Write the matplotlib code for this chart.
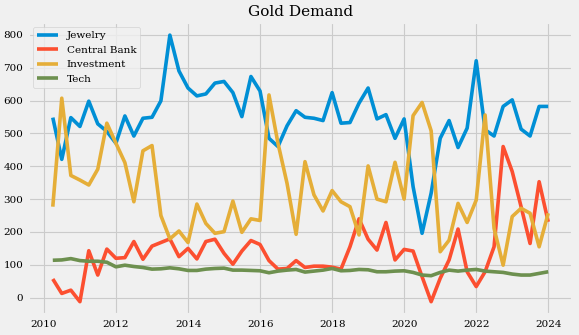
import pandas as pd
import matplotlib
matplotlib.use("Agg")
import matplotlib.pyplot as plt
import matplotlib.dates as mdates

# quarterly gold demand (tonnes), 2010 Q1 - 2023 Q4
quarters = pd.date_range("2010-03-31", periods=56, freq="QE")

jewelry = [548, 421, 548, 521, 598, 529, 506, 470, 553, 492, 546, 549, 599, 799,
           690, 638, 614, 620, 653, 658, 624, 551, 673, 629, 485, 460, 523, 569,
           549, 546, 539, 624, 531, 533, 592, 638, 544, 557, 485, 544, 338, 196,
           318, 485, 539, 457, 516, 721, 511, 492, 582, 602, 513, 492, 582, 582]

central_bank = [57, 13, 23, -12, 143, 69, 148, 120, 122, 171, 117, 157, 168, 179,
                125, 150, 118, 171, 178, 135, 102, 142, 174, 162, 113, 87, 89, 113,
                92, 96, 96, 93, 87, 155, 240, 178, 145, 229, 115, 147, 142, 64,
                -12, 59, 115, 209, 79, 34, 79, 155, 460, 384, 277, 165, 353, 231]

investment = [277, 607, 372, 358, 343, 391, 531, 470, 411, 292, 447, 463, 250, 179,
              203, 168, 285, 226, 196, 201, 294, 199, 240, 235, 617, 470, 348, 193,
              414, 313, 264, 326, 292, 277, 191, 401, 300, 292, 412, 300, 554, 594,
              508, 140, 175, 287, 229, 297, 556, 211, 99, 247, 272, 257, 155, 257]

tech = [114, 115, 119, 113, 111, 111, 108, 94, 99, 95, 92, 87, 88, 91,
        88, 83, 83, 87, 89, 90, 84, 84, 83, 82, 76, 81, 84, 86,
        78, 81, 84, 89, 82, 83, 86, 85, 79, 79, 81, 82, 77, 69,
        67, 77, 84, 81, 84, 86, 81, 79, 77, 72, 69, 69, 74, 79]

df = pd.DataFrame({"Jewelry": jewelry, "Central Bank": central_bank,
                   "Investment": investment, "Tech": tech}, index=quarters)

plt.style.use("fivethirtyeight")
plt.rcParams["font.family"] = "DejaVu Serif"
plt.rcParams["grid.linewidth"] = 0.8

fig, ax = plt.subplots(figsize=(5.79, 3.35), dpi=100)
fig.subplots_adjust(left=0.0484, right=0.9896, bottom=0.0597, top=0.935)

for col in df.columns:
    ax.plot(df.index, df[col], label=col, linewidth=2.6)

ax.xaxis.set_major_locator(mdates.YearLocator(2))
ax.xaxis.set_major_formatter(mdates.DateFormatter("%Y"))
ax.tick_params(labelsize=7.5)
ax.set_title("Gold Demand", fontsize=11, pad=4)
ax.legend(loc="upper left", fontsize=7.5)

fig.savefig("out.png", dpi=100)
